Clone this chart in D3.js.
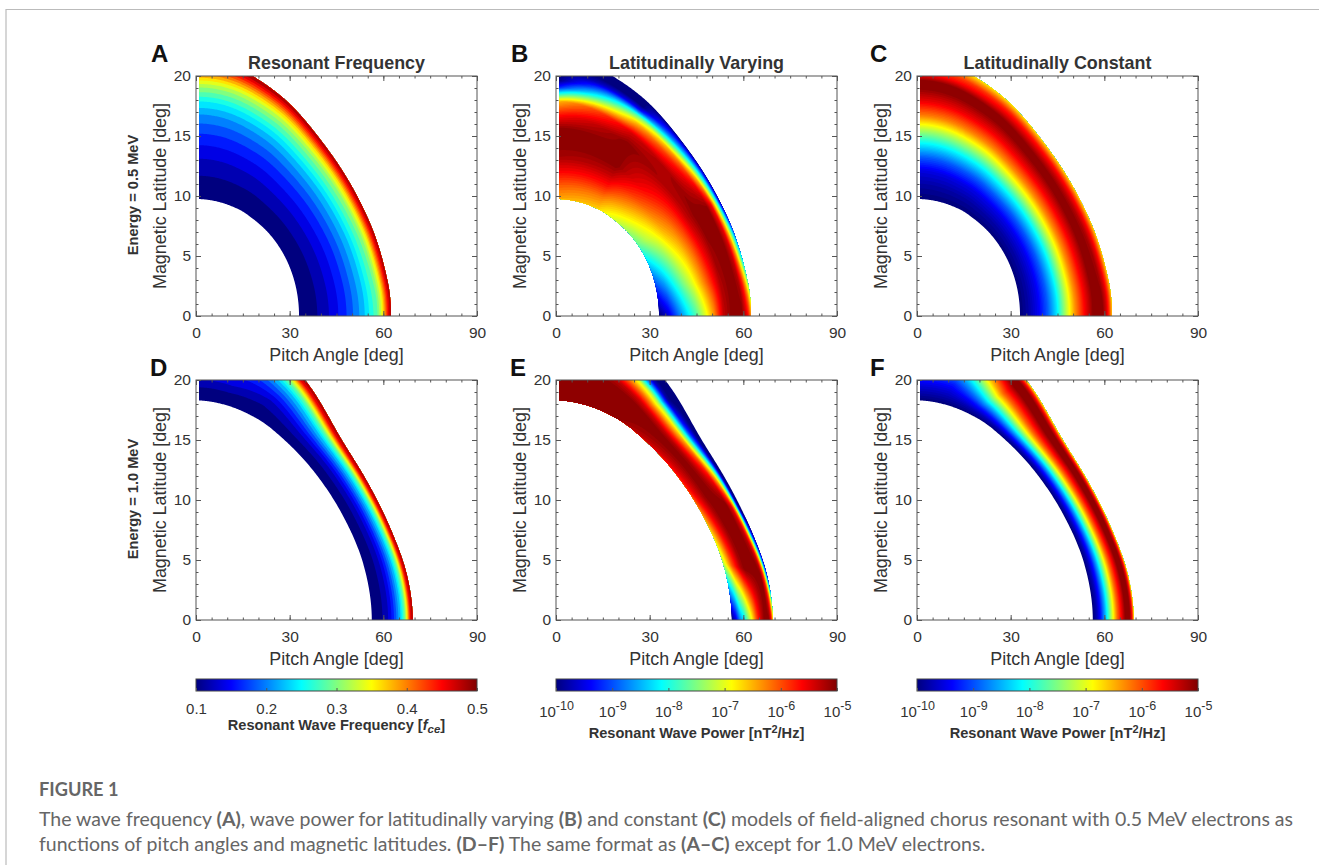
<!DOCTYPE html>
<html>
<head>
<meta charset="UTF-8">
<script src="https://d3js.org/d3.v7.min.js"></script>
<style>
  html, body { margin: 0; background: #fff; }
  svg { display: block; font-family: "Liberation Sans", Arial, sans-serif; }
  .axis path, .axis line { stroke: #555; }
  .axis text { font-size: 15.5px; fill: #333; font-family: "Liberation Sans", Arial, sans-serif; }
  .cbar text { font-size: 15px; }
  .lab { font-size: 17.9px; fill: #333; text-anchor: middle; }
  .bold { font-weight: bold; }
  .cap { font-family: Lato, sans-serif; font-size: 19.5px; fill: #666; }
</style>
</head>
<body>
<script>
var width = 1319, height = 865;

// fraction across the band, inner edge (0) to outer edge (1)
var fractions = [0, .1, .2, .3, .4, .5, .6, .7, .8, .85, .9, .94, .97, 1];

// band edges as [pitch, latitude]
var inner05 = [[33,0],[31.9,2.52],[28.6,4.88],[23.3,6.9],[16.5,8.44],[11.3,9.16],[5.73,9.6],[0,9.75]];
var outer05 = [[62.4,0],[61.3,2.97],[56.4,7.31],[47.3,11.94],[34.7,16.36],[24.6,18.86],[12.4,20.73],[0,21.36]];
var inner10 = [[56.3,0],[53.5,4.74],[46.1,9.15],[36,12.94],[24.6,15.85],[16.5,17.2],[8.3,18],[0,18.3]];
var outer10 = [[69.4,0],[67.5,3.8],[62.3,7.6],[55.3,11.3],[46.7,15],[34.9,20],[20,23.5],[0,24.6]];

// first number is the station along the arc, the rest follow fractions
var valuesA = [
  [0, .1,.11,.12,.135,.154,.175,.203,.233,.275,.295,.345,.41,.46,.5],
  [7, .1,.112,.124,.142,.163,.188,.217,.26,.32,.36,.41,.45,.48,.5]
];
var valuesB = [
  [0, -10,-9.55,-8.9,-8.3,-7.75,-7.05,-6.3,-5.3,-5,-5,-5,-5.3,-5.6,-6.25],
  [1, -9,-8.6,-8.05,-7.5,-7,-6.4,-5.8,-5.2,-5,-5,-5.2,-5.8,-6.5,-7.5],
  [2.5, -7.6,-7.2,-6.9,-6.5,-6.2,-5.8,-5.3,-5,-5,-5.05,-5.6,-6.9,-8.2,-9.8],
  [4.6, -6.6,-6.2,-5.7,-5.3,-5,-5,-5,-5.4,-6.6,-7.6,-9.3,-10,-10,-10],
  [7, -6.4,-6,-5.55,-5.15,-5,-5,-5.65,-6.5,-9.25,-10,-10,-10,-10,-10]
];
var valuesC = [
  [0, -10,-9.75,-9.4,-8.9,-8.2,-7.2,-6.3,-5.6,-5,-5,-5,-5.35,-5.8,-6.5],
  [7, -10,-9.8,-9.5,-8.9,-8.1,-7.2,-6.2,-5.5,-5,-5,-5.7,-6,-6.4,-6.75]
];
var valuesD = [
  [0, .1,.105,.112,.125,.14,.165,.2,.24,.3,.35,.41,.46,.48,.5],
  [5, .1,.105,.112,.125,.14,.165,.2,.24,.3,.35,.41,.46,.48,.5],
  [6, .1,.106,.125,.145,.16,.18,.2,.24,.28,.31,.36,.42,.47,.5],
  [7, .1,.106,.125,.145,.16,.18,.2,.24,.28,.31,.36,.42,.47,.5]
];
var valuesE = [
  [0, -10,-9.5,-8.7,-8.2,-7.5,-6.8,-6,-5.4,-5,-5,-5,-5.3,-5.8,-6.6],
  [1, -7.2,-6.6,-6,-5.6,-5.2,-5,-5,-5,-5,-5.1,-5.8,-6.8,-8.2,-9.4],
  [2.4, -5.8,-5.5,-5.3,-5.1,-5,-5,-5,-5,-5.5,-6.3,-7.8,-9.4,-10,-10],
  [4.7, -5,-5,-5,-5,-5,-5.4,-6.2,-7.2,-9,-9.8,-10,-10,-10,-10],
  [7, -5,-5,-5,-5,-5,-5,-5.6,-6.2,-7.5,-8.5,-9.5,-10,-10,-10]
];
var valuesF = [
  [0, -10,-9.7,-9.2,-8.5,-7.7,-6.85,-6.1,-5.55,-5,-5,-5,-5.4,-5.9,-6.7],
  [5, -10,-9.7,-9.2,-8.5,-7.7,-6.85,-6.1,-5.55,-5,-5,-5,-5.4,-5.9,-6.7],
  [6, -10,-9.75,-9.5,-9.2,-8.8,-8.3,-7.6,-6.9,-6,-5.5,-5,-5,-5.4,-6],
  [7, -10,-9.75,-9.5,-9.2,-8.8,-8.3,-7.6,-6.9,-6,-5.5,-5,-5,-5.4,-6]
];

var pitchTicks = [0, 30, 60, 90];
var latTicks = [0, 5, 10, 15, 20];
var freqTicks = [0.1, 0.2, 0.3, 0.4, 0.5];
var powerTicks = [-10, -9, -8, -7, -6, -5];

var panels = [
  {letter: "A", lx: 151, ly: 62, left: 196, top: 76, title: "Resonant Frequency", energy: "Energy = 0.5 MeV", inner: inner05, outer: outer05, values: valuesA, freq: true},
  {letter: "B", lx: 511, ly: 62, left: 556, top: 76, title: "Latitudinally Varying", inner: inner05, outer: outer05, values: valuesB},
  {letter: "C", lx: 870, ly: 62, left: 917, top: 76, title: "Latitudinally Constant", inner: inner05, outer: outer05, values: valuesC},
  {letter: "D", lx: 150, ly: 376, left: 196, top: 380, energy: "Energy = 1.0 MeV", inner: inner10, outer: outer10, values: valuesD, freq: true},
  {letter: "E", lx: 510, ly: 376, left: 556, top: 380, inner: inner10, outer: outer10, values: valuesE},
  {letter: "F", lx: 870, ly: 376, left: 917, top: 380, inner: inner10, outer: outer10, values: valuesF}
];

var plotW = 281, plotH = 240;
var nS = 220, nF = 220;

var jet = d3.scaleLinear()
  .domain([0, .125, .375, .625, .875, 1])
  .range(["#00007f", "#0000ff", "#00ffff", "#ffff00", "#ff0000", "#7f0000"]);

var freqT = d3.scaleLinear().domain([.1, .5]).range([0, 1]);
var powerT = d3.scaleLinear().domain([-10, -5]).range([0, 1]);

var svg = d3.select("body").append("svg").attr("width", width).attr("height", height);
var defs = svg.append("defs");

// page frame
svg.append("path").attr("d", "M6,866V9.5H1320").attr("fill", "none").attr("stroke", "#bbb").attr("stroke-width", 1.2);

// catmull-rom, a has one ghost point at each end, s is in index units
function spline(a, s) {
  var i = Math.min(Math.floor(s), a.length - 4) + 1, t = s - (i - 1);
  var p0 = a[i - 1], p1 = a[i], p2 = a[i + 1], p3 = a[i + 2];
  return .5 * (2 * p1 + (p2 - p0) * t + (2 * p0 - 5 * p1 + 4 * p2 - p3) * t * t + (3 * p1 - p0 - 3 * p2 + p3) * t * t * t);
}

// mirror the edge over both axes so it meets them square
function pitches(e) {
  var n = e.length;
  return [e[1][0]].concat(e.map(function(p) { return p[0]; }), [-e[n - 2][0]]);
}
function lats(e) {
  var n = e.length;
  return [-e[1][1]].concat(e.map(function(p) { return p[1]; }), [e[n - 2][1]]);
}

function drawPanel(d, idx) {
  var g = svg.append("g").attr("transform", "translate(" + d.left + "," + d.top + ")");
  var x = d3.scaleLinear().domain([0, 90]).range([0, plotW]);
  var y = d3.scaleLinear().domain([0, 20]).range([plotH, 0]);
  var last = d.inner.length - 1;

  var innerP = pitches(d.inner), innerL = lats(d.inner);
  var outerP = pitches(d.outer), outerL = lats(d.outer);

  // value on a fine (station, fraction) grid
  var stations = d.values.map(function(r) { return r[0]; });
  var rowAt = d3.scaleLinear().domain(stations).range(d3.range(stations.length)).clamp(true);
  var fracAt = d3.scaleLinear().domain(fractions).range(d3.range(fractions.length)).clamp(true);
  var grid = new Float64Array(nS * nF);
  for (var j = 0; j < nF; j++) {
    var fp = fracAt(j / (nF - 1));
    var f0 = Math.min(Math.floor(fp), fractions.length - 2), ft = fp - f0;
    for (var i = 0; i < nS; i++) {
      var rp = rowAt(i / (nS - 1) * last);
      var r0 = Math.min(Math.floor(rp), stations.length - 2), rt = rp - r0;
      var a = d.values[r0], b = d.values[r0 + 1];
      var va = a[f0 + 1] + (a[f0 + 2] - a[f0 + 1]) * ft;
      var vb = b[f0 + 1] + (b[f0 + 2] - b[f0 + 1]) * ft;
      grid[i + j * nS] = va + (vb - va) * rt;
    }
  }

  // filled bands: 20 for frequency, 64 for power
  var toT = d.freq ? freqT : powerT;
  var levels = d.freq ? d3.range(20).map(function(k) { return .1 + k * .02; })
                      : d3.range(64).map(function(k) { return -10 + k * 5 / 64; });
  var thresholds = levels.slice();
  thresholds[0] = levels[0] - 1;
  var bands = d3.contours().size([nS, nF]).thresholds(thresholds)(grid);

  var project = d3.geoTransform({
    point: function(gx, gy) {
      var s = Math.max(0, Math.min(1, (gx - .5) / (nS - 1))) * last;
      var f = Math.max(0, Math.min(1, (gy - .5) / (nF - 1)));
      var pi = spline(innerP, s), li = spline(innerL, s);
      var po = spline(outerP, s), lo = spline(outerL, s);
      this.stream.point(x(pi + (po - pi) * f), y(li + (lo - li) * f));
    }
  });
  var path = d3.geoPath(project);

  var clipId = "clip" + idx;
  defs.append("clipPath").attr("id", clipId).append("rect")
    .attr("x", x(1)).attr("y", 0).attr("width", plotW - x(1)).attr("height", plotH);

  g.append("g").attr("clip-path", "url(#" + clipId + ")")
    .selectAll("path").data(bands).enter().append("path")
    .attr("d", path)
    .attr("fill", function(c, k) { return jet(toT(levels[k])); });

  // box with inward ticks on all sides
  g.append("rect").attr("width", plotW).attr("height", plotH).attr("fill", "none").attr("stroke", "#555");
  function ticks(axis, scale, minor, major, move, fmt) {
    var m = g.append("g").attr("class", "axis").attr("transform", move)
      .call(axis(scale).tickValues(minor).tickSize(-2.5).tickFormat(""));
    m.select(".domain").remove();
    var b = g.append("g").attr("class", "axis").attr("transform", move)
      .call(axis(scale).tickValues(major).tickSizeInner(-5).tickSizeOuter(0).tickPadding(11).tickFormat(fmt));
    b.select(".domain").remove();
    return b;
  }
  var minorX = d3.range(0, 91, 5), minorY = d3.range(0, 21, 1);
  var none = function() { return ""; };
  ticks(d3.axisBottom, x, minorX, pitchTicks, "translate(0," + plotH + ")", d3.format("d"));
  ticks(d3.axisTop, x, minorX, pitchTicks, "translate(0,0)", none);
  ticks(d3.axisLeft, y, minorY, latTicks, "translate(0,0)", d3.format("d")).selectAll("text").attr("x", -5);
  ticks(d3.axisRight, y, minorY, latTicks, "translate(" + plotW + ",0)", none);

  // labels
  g.append("text").attr("class", "lab").attr("x", plotW / 2).attr("y", plotH + 45).text("Pitch Angle [deg]");
  g.append("text").attr("class", "lab").attr("transform", "translate(-30," + plotH / 2 + ") rotate(-90)").text("Magnetic Latitude [deg]");
  if (d.energy) {
    g.append("text").attr("class", "lab bold").style("font-size", "14.6px")
      .attr("transform", "translate(-58," + (plotH / 2 - 1) + ") rotate(-90)").text(d.energy);
  }
  if (d.title) {
    g.append("text").attr("class", "lab bold").attr("x", plotW / 2).attr("y", -7).text(d.title);
  }
  svg.append("text").attr("x", d.lx).attr("y", d.ly).attr("font-size", 24).attr("font-weight", "bold").attr("fill", "#111").text(d.letter);
}

panels.forEach(drawPanel);

// colorbars
defs.append("linearGradient").attr("id", "jetGrad")
  .selectAll("stop").data([0, .125, .375, .625, .875, 1]).enter().append("stop")
  .attr("offset", function(t) { return t; })
  .attr("stop-color", function(t) { return jet(t); });

function drawBar(left, isFreq) {
  var barY = 679, barH = 12;
  var g = svg.append("g").attr("transform", "translate(" + left + "," + barY + ")");
  g.append("rect").attr("width", plotW).attr("height", barH).attr("fill", "url(#jetGrad)").attr("stroke", "#444");
  var sc = isFreq ? d3.scaleLinear().domain([.1, .5]).range([0, plotW])
                  : d3.scaleLog().domain([1e-10, 1e-5]).range([0, plotW]);
  var vals = isFreq ? freqTicks : powerTicks.map(function(e) { return Math.pow(10, e); });
  var ax = g.append("g").attr("class", "axis cbar").attr("transform", "translate(0," + barH + ")")
    .call(d3.axisBottom(sc).tickValues(vals).tickSizeInner(-3).tickSizeOuter(0).tickPadding(isFreq ? 12 : 15)
      .tickFormat(isFreq ? d3.format(".1f") : function() { return "10"; }));
  ax.select(".domain").remove();
  if (!isFreq) {
    ax.selectAll("text").append("tspan").attr("dy", "-.5em").style("font-size", "12.5px")
      .text(function(v, k) { return powerTicks[k]; });
  }
  var lab = g.append("text").attr("class", "lab bold").style("font-size", "14.6px")
    .attr("x", plotW / 2).attr("y", isFreq ? 51 : 59);
  if (isFreq) {
    lab.append("tspan").text("Resonant Wave Frequency [");
    lab.append("tspan").attr("font-style", "italic").text("f");
    lab.append("tspan").attr("font-style", "italic").attr("dy", 3).style("font-size", "11.5px").text("ce");
    lab.append("tspan").attr("dy", -3).text("]");
  } else {
    lab.append("tspan").text("Resonant Wave Power [nT");
    lab.append("tspan").attr("dy", -5).style("font-size", "11px").text("2");
    lab.append("tspan").attr("dy", 5).text("/Hz]");
  }
}
drawBar(196, true);
drawBar(556, false);
drawBar(917, false);

// caption
var cap = svg.append("g").attr("class", "caption");
cap.append("text").attr("class", "cap bold").style("font-size", "18.2px").attr("x", 39).attr("y", 796).text("FIGURE 1");
function capLine(yPos, parts) {
  var t = cap.append("text").attr("class", "cap").attr("x", 39).attr("y", yPos);
  parts.forEach(function(p, k) {
    t.append("tspan").attr("font-weight", k % 2 ? "bold" : "normal").text(p);
  });
}
capLine(826, ["The wave frequency ", "(A)", ", wave power for latitudinally varying ", "(B)", " and constant ", "(C)", " models of field-aligned chorus resonant with 0.5 MeV electrons as"]);
capLine(851, ["functions of pitch angles and magnetic latitudes. ", "(D\u2013F)", " The same format as ", "(A\u2013C)", " except for 1.0 MeV electrons."]);
</script>
</body>
</html>
